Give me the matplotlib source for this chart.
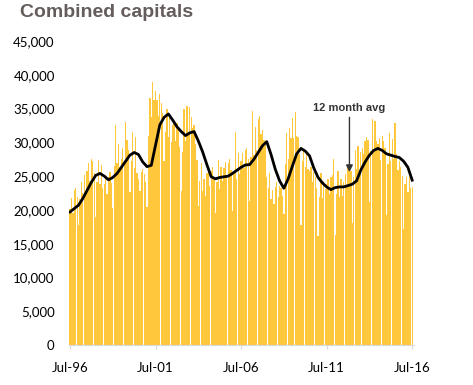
import numpy as np
import matplotlib
matplotlib.use("Agg")
import matplotlib.pyplot as plt

title = "Combined capitals"
tick_labels = ["Jul-96", "Jul-01", "Jul-06", "Jul-11", "Jul-16"]
annotation = "12 month avg"

# Monthly values, Jul-96 .. Jul-16 (one row per Jul..Jun year)
monthly = [
    20100, 21800, 19600, 22900, 23300, 21900, 17800, 21600, 24200, 22500, 25100, 22700,
    25800, 26900, 24300, 27600, 27200, 25500, 19000, 24100, 27400, 23800, 26700, 23200,
    23900, 25200, 22400, 24800, 25600, 24000, 20300, 26500, 32600, 26900, 29800, 26400,
    27600, 29100, 26800, 33000, 30400, 28900, 22600, 27300, 31500, 26200, 30800, 25400,
    24500, 22800, 25600, 26100, 25300, 24200, 20500, 31000, 36500, 33800, 38900, 36200,
    37600, 36200, 33900, 37100, 35800, 34400, 27200, 31600, 34900, 30800, 33700, 30100,
    32500, 33100, 30200, 32800, 31900, 29300, 22800, 28600, 34900, 30200, 35400, 31600,
    35200, 33800, 32100, 32500, 29800, 27400, 20600, 24300, 26900, 22800, 24500, 22100,
    25400, 26100, 23600, 25800, 26400, 24700, 19500, 24200, 27400, 23100, 26300, 24300,
    26200, 27100, 24800, 26900, 27600, 25900, 19800, 25300, 31500, 24600, 28400, 25300,
    27300, 28400, 26200, 28900, 29100, 27600, 21300, 27800, 34600, 28100, 32200, 28900,
    33400, 33900, 31200, 31800, 30400, 29900, 24800, 23200, 25400, 21600, 22900, 20800,
    23400, 24100, 21900, 23600, 23300, 22100, 19400, 26800, 31400, 27600, 32100, 30700,
    33600, 30600, 34500, 30900, 30800, 28300, 17800, 27300, 28900, 26400, 28200, 26100,
    25800, 26300, 24100, 25600, 24900, 23200, 16100, 21900, 25400, 21800, 24300, 23100,
    23900, 24600, 22300, 24800, 25200, 27600, 16300, 22400, 25700, 21900, 24500, 22100,
    24100, 25300, 23600, 26400, 27100, 25800, 18100, 24900, 28800, 26100, 29400, 25200,
    28600, 29200, 28200, 30200, 30800, 30300, 21200, 28700, 33500, 28400, 33100, 30200,
    29800, 30600, 27400, 30900, 30200, 29100, 19200, 26800, 31400, 27300, 30500, 27600,
    32800, 28200, 25900, 27200, 26300, 25000, 17100, 23800, 24800, 22600, 24900, 23300,
    23400,
]

# 12 month average, read every third month from Jul-96
avg_quarterly = [
    19700, 20200, 20700, 21700, 22900, 24100, 25100, 25400, 25000, 24450,
    24800, 25400, 26300, 27200, 28100, 28500, 28200, 27100, 26400, 26600,
    29600, 32600, 33700, 34200, 33300, 32300, 31600, 31000, 31400, 31600,
    30200, 28600, 26700, 24900, 24600, 24800, 24900, 25000, 25400, 25850,
    26300, 26650, 26700, 27500, 28500, 29500, 30100, 28200, 26000, 24300,
    23200, 24600, 26500, 28300, 29100, 28700, 28000, 26200, 24800, 24000,
    23400, 23000, 23300, 23400, 23400, 23600, 23800, 24300, 25900, 27100,
    28100, 28800, 29100, 28800, 28300, 28100, 27900, 27750, 27200, 26300,
    24400,
]

x = np.arange(len(monthly))
x_avg = np.arange(len(avg_quarterly)) * 3

fig = plt.figure(figsize=(4.73, 3.85), dpi=100)
ax = fig.add_axes([68.6 / 473, 40 / 385, 345 / 473, 304 / 385])

ax.bar(x, monthly, width=0.9, color="#FFC73C", linewidth=0)
ax.plot(x_avg, avg_quarterly, color="black", lw=2.0, solid_joinstyle="round")

ax.set_xlim(-1, 241)
ax.set_ylim(0, 45000)
ax.set_yticks(np.arange(0, 45001, 5000))
ax.set_yticklabels([f"{v:,}" for v in range(0, 45001, 5000)],
                   fontsize=9.5, family=["Lato", "DejaVu Sans"])
ax.set_xticks(np.arange(0, 241, 60))
ax.set_xticklabels(tick_labels, fontsize=9.5, family=["Lato", "DejaVu Sans"])
ax.tick_params(axis="y", length=0, pad=10)
ax.tick_params(axis="x", length=3, color="#d9d9d9", pad=9)

for s in ["top", "right", "left"]:
    ax.spines[s].set_visible(False)
ax.spines["bottom"].set_color("#d9d9d9")
ax.spines["bottom"].set_linewidth(0.8)

ax.annotate("", xy=(196, 25600), xytext=(196, 33700),
            arrowprops=dict(arrowstyle="-|>", color="#333333", lw=1.0,
                            mutation_scale=10, shrinkA=0, shrinkB=0))
ax.text(196, 35100, annotation, ha="center", va="center", fontsize=8,
        fontweight="bold", color="#333333", family=["Liberation Sans", "DejaVu Sans"])

fig.text(20 / 473, 1 - 17 / 385, title, ha="left", va="baseline", fontsize=14,
         fontweight="bold", color="#655d5b", family=["Liberation Sans", "DejaVu Sans"])

fig.savefig("out.png", dpi=100)
